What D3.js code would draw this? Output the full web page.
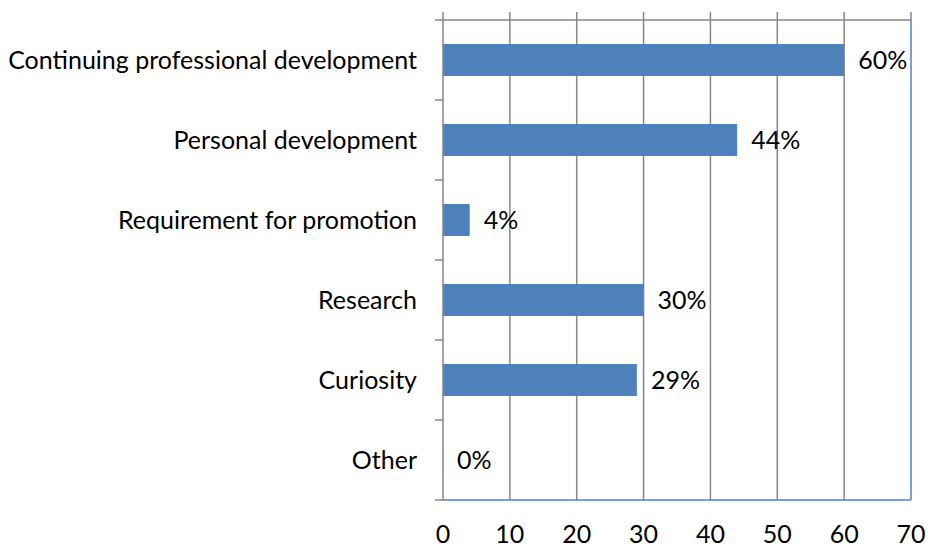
<!DOCTYPE html>
<html><head><meta charset="utf-8">
<script src="https://cdn.jsdelivr.net/npm/d3@7"></script>
<style>body{margin:0;background:#fff}svg{display:block}text{font-family:Lato,"Open Sans",sans-serif;fill:#000}</style>
</head><body><svg id="c" width="928" height="547"></svg>
<script>
const categories = ["Continuing professional development","Personal development","Requirement for promotion","Research","Curiosity","Other"];
const values = [60, 44, 4, 30, 29, 0];
const valueLabels = ["60%","44%","4%","30%","29%","0%"];
const xTicks = [0,10,20,30,40,50,60,70];

const svg = d3.select("#c");
const m = {l:443, r:911, t:20, b:500};
const x = d3.scaleLinear().domain([0,70]).range([m.l, m.r]);
const y = d3.scaleBand().domain(categories).range([m.t, m.b]).paddingInner(0.6).paddingOuter(0.3);
const fs = 25;

// gridlines (extending above top as ticks)
svg.append("g").selectAll("line").data(xTicks.slice(1,-1)).join("line")
  .attr("x1", d=>x(d)).attr("x2", d=>x(d)).attr("y1", m.t-8).attr("y2", m.b)
  .attr("stroke","#868686").attr("stroke-width",1.5);
svg.append("line").attr("x1", x(70)).attr("x2", x(70)).attr("y1", m.t-8).attr("y2", m.t).attr("stroke","#868686").attr("stroke-width",1.5);
// top line
svg.append("line").attr("x1", m.l-8).attr("x2", m.r).attr("y1", m.t).attr("y2", m.t).attr("stroke","#868686").attr("stroke-width",1.5);
// plot border right & bottom (blue)
svg.append("line").attr("x1", m.r).attr("x2", m.r).attr("y1", m.t).attr("y2", m.b).attr("stroke","#4F81BD").attr("stroke-width",1.5);
svg.append("line").attr("x1", m.l).attr("x2", m.r).attr("y1", m.b).attr("y2", m.b).attr("stroke","#4F81BD").attr("stroke-width",1.5);

// bars
svg.append("g").selectAll("rect").data(categories).join("rect")
  .attr("x", x(0)).attr("y", d=>y(d)).attr("height", y.bandwidth())
  .attr("width", (d,i)=>x(values[i])-x(0)).attr("fill","#4F81BD");

// left axis
const yTicks = d3.range(categories.length+1).map(i=>m.t+i*(m.b-m.t)/categories.length);
svg.append("g").selectAll("line").data(yTicks.slice(1)).join("line")
  .attr("x1", m.l-8).attr("x2", m.l).attr("y1", d=>d).attr("y2", d=>d)
  .attr("stroke","#868686").attr("stroke-width",1.5);
svg.append("line").attr("x1", m.l).attr("x2", m.l).attr("y1", m.t-8).attr("y2", m.b).attr("stroke","#868686").attr("stroke-width",1.5);

// category labels
svg.append("g").selectAll("text").data(categories).join("text")
  .attr("x", m.l-26).attr("y", d=>y(d)+y.bandwidth()/2).attr("dy","0.35em")
  .attr("text-anchor","end").attr("font-size",fs).text(d=>d);

// value labels
svg.append("g").selectAll("text").data(categories).join("text")
  .attr("x", (d,i)=>x(values[i])+14).attr("y", d=>y(d)+y.bandwidth()/2).attr("dy","0.35em")
  .attr("font-size",fs).text((d,i)=>valueLabels[i]);

// x tick labels
svg.append("g").selectAll("text").data(xTicks).join("text")
  .attr("x", d=>x(d)).attr("y", 543).attr("text-anchor","middle")
  .attr("font-size",fs).text(d=>d);
</script></body></html>
